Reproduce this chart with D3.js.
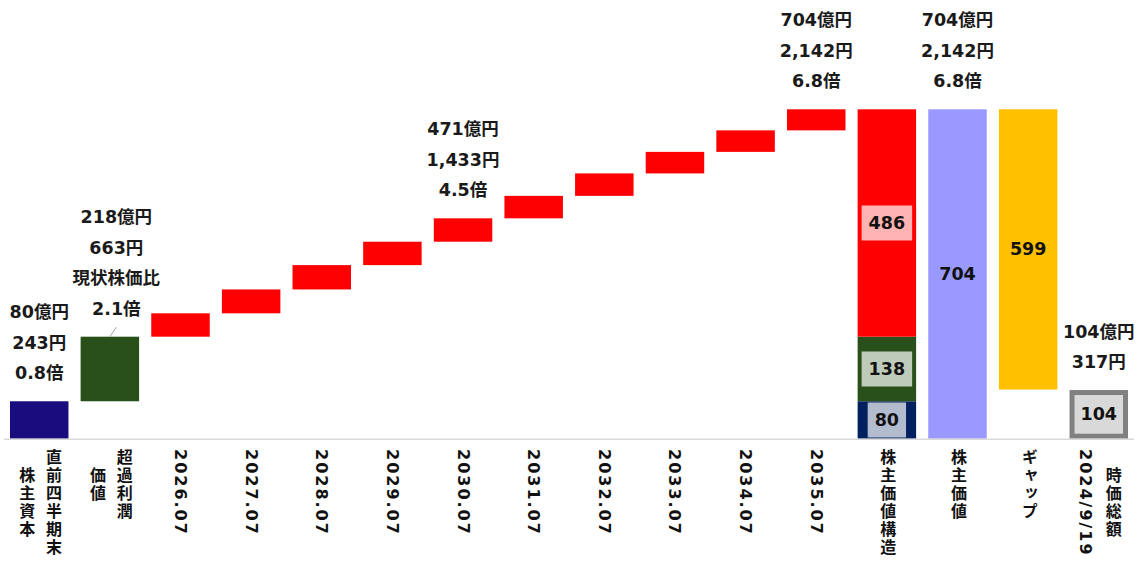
<!DOCTYPE html>
<html>
<head>
<meta charset="utf-8">
<script src="https://cdn.jsdelivr.net/npm/d3@7"></script>
<style>
  body { margin: 0; background: #fff; }
  svg { display: block; }
</style>
</head>
<body>
<div id="chart"></div>
<script>
// axis labels: each line is one vertical column, first line is the rightmost
const categories = [
  ["直前四半期末", "株主資本"],
  ["超過利潤", "価値"],
  ["2026.07"], ["2027.07"], ["2028.07"], ["2029.07"], ["2030.07"],
  ["2031.07"], ["2032.07"], ["2033.07"], ["2034.07"], ["2035.07"],
  ["株主価値構造"],
  ["株主価値"],
  ["ギャップ"],
  ["時価総額", "2024/9/19"]
];

const bookEquity = 80;          // 億円
const excessProfitValue = 138;
const yearSteps = [50, 51, 52, 50, 50, 48, 48, 46, 46, 45];
const shareholderValue = 704;
const valueGap = 599;
const marketCap = 104;

const annotations = [
  { cat: 0,  lines: ["80億円", "243円", "0.8倍"] },
  { cat: 1,  lines: ["218億円", "663円", "現状株価比", "2.1倍"], dx: 6.5, leader: true },
  { cat: 6,  lines: ["471億円", "1,433円", "4.5倍"] },
  { cat: 11, lines: ["704億円", "2,142円", "6.8倍"] },
  { cat: 13, lines: ["704億円", "2,142円", "6.8倍"] },
  { cat: 15, lines: ["104億円", "317円"] }
];

const width = 1137, height = 565;
const FONT = "'DejaVu Sans', 'Noto Sans CJK JP', sans-serif";

const svg = d3.select("#chart").append("svg")
  .attr("width", width).attr("height", height);

const x = d3.scaleBand()
  .domain(d3.range(categories.length))
  .range([3.9, 1134.1])
  .paddingInner(0.172)
  .paddingOuter(0.086);

const y = d3.scaleLinear().domain([0, 704]).range([438.7, 109.3]);

// build bars
const bars = [];
bars.push({ cat: 0, v0: 0, v1: bookEquity, fill: "#190C7E" });
bars.push({ cat: 1, v0: bookEquity, v1: bookEquity + excessProfitValue, fill: "#29501A" });
let cum = bookEquity + excessProfitValue;
yearSteps.forEach((s, i) => {
  bars.push({ cat: 2 + i, v0: cum, v1: cum + s, fill: "#FF0000" });
  cum += s;
});
const futureSum = d3.sum(yearSteps);
bars.push({ cat: 12, v0: 0, v1: bookEquity, fill: "#002060", label: bookEquity, box: true });
bars.push({ cat: 12, v0: bookEquity, v1: bookEquity + excessProfitValue, fill: "#29501A", label: excessProfitValue, box: true });
bars.push({ cat: 12, v0: bookEquity + excessProfitValue, v1: bookEquity + excessProfitValue + futureSum, fill: "#FF0000", label: futureSum, box: true });
bars.push({ cat: 13, v0: 0, v1: shareholderValue, fill: "#9999FF", label: shareholderValue });
bars.push({ cat: 14, v0: shareholderValue - valueGap, v1: shareholderValue, fill: "#FFC000", label: valueGap });
bars.push({ cat: 15, v0: 0, v1: marketCap, fill: "#D9D9D9", stroke: "#808080", label: marketCap });

const g = svg.append("g");

g.selectAll("rect.bar")
  .data(bars)
  .enter().append("rect")
  .attr("class", "bar")
  .attr("x", d => x(d.cat) + (d.stroke ? 2.5 : 0))
  .attr("width", d => x.bandwidth() - (d.stroke ? 5 : 0))
  .attr("y", d => y(d.v1) + (d.stroke ? 2.5 : 0))
  .attr("height", d => y(d.v0) - y(d.v1) - (d.stroke ? 5 : 0))
  .attr("fill", d => d.fill)
  .attr("stroke", d => d.stroke || "none")
  .attr("stroke-width", d => d.stroke ? 5 : 0);

// axis line
svg.append("line")
  .attr("x1", 4).attr("x2", 1134)
  .attr("y1", 439.3).attr("y2", 439.3)
  .attr("stroke", "#D9D9D9").attr("stroke-width", 1.5);

// value labels inside bars
const labelled = bars.filter(d => d.label !== undefined);
const lg = g.selectAll("g.vlabel")
  .data(labelled)
  .enter().append("g")
  .attr("class", "vlabel")
  .attr("transform", d => `translate(${x(d.cat) + x.bandwidth() / 2},${(y(d.v0) + y(d.v1)) / 2})`);

lg.append("text")
  .attr("text-anchor", "middle")
  .attr("dominant-baseline", "central")
  .attr("font-family", FONT)
  .attr("font-weight", "bold")
  .attr("font-size", 17.5)
  .attr("fill", "#111")
  .text(d => d.label);

lg.filter(d => d.box).each(function () {
  const t = d3.select(this).select("text");
  const w = t.node().getComputedTextLength() + 14;
  d3.select(this).insert("rect", "text")
    .attr("x", -w / 2).attr("width", w)
    .attr("y", -17.5).attr("height", 35)
    .attr("fill", "#fff").attr("fill-opacity", 0.7);
});

// annotations above bars
const topOf = c => d3.min(bars.filter(b => b.cat === c), b => y(b.v1));
annotations.forEach(a => {
  const cx = x(a.cat) + x.bandwidth() / 2;
  const top = topOf(a.cat);
  const n = a.lines.length;
  a.lines.forEach((line, i) => {
    svg.append("text")
      .attr("x", cx + (a.dx || 0))
      .attr("y", top - 28 - (n - 1 - i) * 30.5)
      .attr("text-anchor", "middle")
      .attr("dominant-baseline", "central")
      .attr("font-family", FONT)
      .attr("font-weight", "bold")
      .attr("font-size", 17.5)
      .attr("fill", "#1a1a1a")
      .text(line);
  });
  if (a.leader) {
    svg.append("line")
      .attr("x1", cx + a.dx).attr("y1", top - 9.5)
      .attr("x2", cx).attr("y2", top)
      .attr("stroke", "#A6A6A6").attr("stroke-width", 1);
  }
});

// vertical axis labels
const colGap = 26.7;
categories.forEach((cols, i) => {
  const cx = x(i) + x.bandwidth() / 2;
  const n = cols.length;
  const texts = cols.map((c, j) => svg.append("text")
    .attr("x", cx + ((n - 1) / 2 - j) * colGap)
    .attr("text-anchor", "middle")
    .attr("font-family", FONT)
    .attr("font-weight", "bold")
    .attr("font-size", 16)
    .attr("fill", "#111")
    .style("writing-mode", "vertical-rl")
    .style("letter-spacing", "2px")
    .text(c));
  const maxLen = d3.max(texts, t => t.node().getComputedTextLength());
  texts.forEach(t => t.attr("y", 449 + maxLen / 2));
});
</script>
</body>
</html>
